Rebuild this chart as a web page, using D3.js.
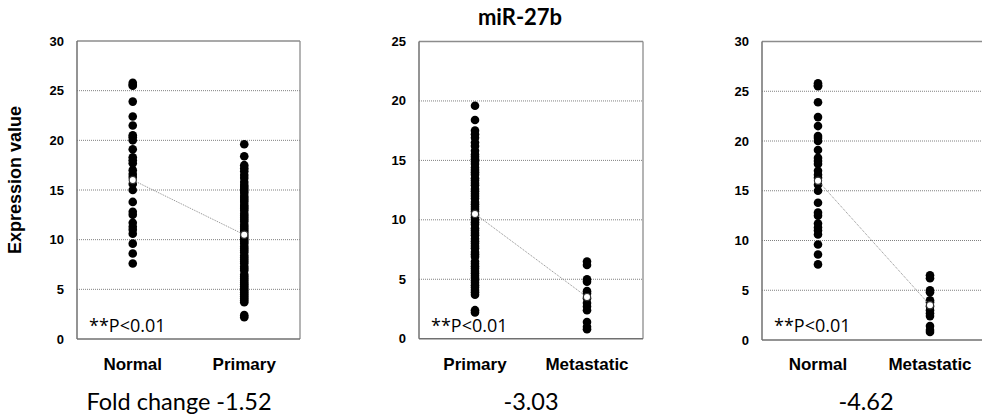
<!DOCTYPE html>
<html>
<head>
<meta charset="utf-8">
<script src="https://cdn.jsdelivr.net/npm/d3@7"></script>
<style>
  body { margin: 0; background: #fff; }
  svg { display: block; }
</style>
</head>
<body>
<svg width="982" height="419"></svg>
<script>
// values
var normalValues = [25.8, 25.6, 25.5, 23.9, 22.4, 21.5, 20.5, 20.3, 20.0, 19.1, 18.3, 18.0, 17.7, 17.0,
    16.6, 16.3, 15.6, 15.0, 13.8, 12.8, 12.5, 11.7, 11.3, 11.0, 10.6, 9.6, 8.6, 7.6];
var primaryValues = [19.6, 18.4, 17.5, 17.2, 16.9, 16.5, 16.2, 15.8, 15.5, 15.3, 15.1, 14.9, 14.7, 14.4,
    14.2, 14.0, 13.8, 13.5, 13.3, 13.1, 12.9, 12.6, 12.4, 12.2, 12.0, 11.8, 11.5, 11.3, 11.1, 10.9,
    10.7, 10.4, 10.2, 10.0, 9.8, 9.6, 9.3, 9.1, 8.9, 8.7, 8.4, 8.2, 8.0, 7.8, 7.6, 7.3, 7.1, 6.9,
    6.5, 6.3, 6.1, 5.9, 5.7, 5.5, 5.3, 5.1, 4.9, 4.7, 4.5, 4.3, 4.1, 3.9, 3.7, 2.4, 2.2];
var metastaticValues = [6.5, 6.2, 5.0, 4.8, 4.0, 3.8, 3.4, 3.0, 2.7, 2.4, 1.4, 1.0, 0.8];

var categoryNames = ["Normal", "Primary", "Metastatic"];
var meanValues = [16.0, 10.5, 3.5];

var panelPairs = [["Normal", "Primary"], ["Primary", "Metastatic"], ["Normal", "Metastatic"]];
var panelMax = [30, 25, 30];
var tickStep = 5;
var foldLabels = ["Fold change -1.52", "-3.03", "-4.62"];
var chartTitle = "miR-27b";
var yTitle = "Expression value";
var pLabel = "**P<0.01";

var valuesByName = {Normal: normalValues, Primary: primaryValues, Metastatic: metastaticValues};

var svg = d3.select("svg");

// panel boxes in pixels
var boxes = [
    {x0: 77, x1: 300, top: 41, bottom: 339, foldX: 179},
    {x0: 419, x1: 643, top: 41.5, bottom: 338.7, foldX: 531},
    {x0: 762, x1: 986, top: 41.5, bottom: 340, foldX: 866}
];

var draw_panel = function(i) {
    var b = boxes[i];
    var pair = panelPairs[i];
    var g = svg.append("g");

    var x = d3.scalePoint().domain(pair).range([b.x0, b.x1]).padding(0.5);
    var y = d3.scaleLinear().domain([0, panelMax[i]]).range([b.bottom, b.top]);
    var ticks = d3.range(0, panelMax[i] + tickStep, tickStep);

    // dotted grid
    g.selectAll("line.grid").data(ticks.filter(function(t) { return t > 0 && t < panelMax[i]; }))
        .enter().append("line")
        .attr("x1", b.x0).attr("x2", b.x1)
        .attr("y1", function(d) { return y(d); })
        .attr("y2", function(d) { return y(d); })
        .attr("stroke", "#808080")
        .attr("stroke-width", 1)
        .attr("stroke-dasharray", "1,1");

    // frame: top and right light, left and bottom axis
    g.append("line").attr("x1", b.x0).attr("x2", b.x1).attr("y1", y(panelMax[i])).attr("y2", y(panelMax[i]))
        .attr("stroke", "#8c8c8c").attr("stroke-width", 1.3);
    g.append("line").attr("x1", b.x1).attr("x2", b.x1).attr("y1", b.top).attr("y2", b.bottom)
        .attr("stroke", "#8c8c8c").attr("stroke-width", 1.3);
    g.append("line").attr("x1", b.x0).attr("x2", b.x0).attr("y1", b.top).attr("y2", b.bottom)
        .attr("stroke", "#707070").attr("stroke-width", 1.5);
    g.append("line").attr("x1", b.x0).attr("x2", b.x1).attr("y1", b.bottom).attr("y2", b.bottom)
        .attr("stroke", "#707070").attr("stroke-width", 1.5);

    // tick labels
    g.selectAll("text.tick").data(ticks).enter().append("text")
        .text(function(d) { return d; })
        .attr("x", b.x0 - 13)
        .attr("y", function(d) { return y(d) + 4.5; })
        .attr("style", "text-anchor: end; font-family: 'Liberation Sans', Arial, sans-serif; font-weight: bold; font-size: 13px;");

    // dots
    pair.forEach(function(name) {
        g.selectAll(null).data(valuesByName[name]).enter().append("circle")
            .attr("cx", x(name))
            .attr("cy", function(d) { return y(d); })
            .attr("r", 4.3)
            .attr("fill", "#000");
    });

    // mean line + markers
    var means = pair.map(function(name) { return [name, meanValues[categoryNames.indexOf(name)]]; });
    g.append("path")
        .attr("d", d3.line().x(function(d) { return x(d[0]); }).y(function(d) { return y(d[1]); })(means))
        .attr("fill", "none")
        .attr("stroke", "#8c8c8c")
        .attr("stroke-width", 1)
        .attr("stroke-dasharray", "1,1");
    g.selectAll("circle.mean").data(means).enter().append("circle")
        .attr("cx", function(d) { return x(d[0]); })
        .attr("cy", function(d) { return y(d[1]); })
        .attr("r", 3.6)
        .attr("fill", "#fff")
        .attr("stroke", "#333")
        .attr("stroke-width", 1.2);

    // category labels
    g.selectAll("text.cat").data(pair).enter().append("text")
        .text(function(d) { return d; })
        .attr("x", function(d) { return x(d); })
        .attr("y", 370)
        .attr("style", "text-anchor: middle; font-family: 'Liberation Sans', Arial, sans-serif; font-weight: bold; font-size: 17px;");

    g.append("text")
        .text(pLabel)
        .attr("x", b.x0 + 12)
        .attr("y", 332)
        .attr("style", "font-family: 'Open Sans', sans-serif; font-size: 18px;");

    g.append("text")
        .text(foldLabels[i])
        .attr("x", b.foldX)
        .attr("y", 410)
        .attr("style", "text-anchor: middle; font-family: Lato, sans-serif; font-size: 23.5px;");
};

for (var i = 0; i < 3; i++) {
    draw_panel(i);
}

svg.append("text")
    .text(chartTitle)
    .attr("x", 520)
    .attr("y", 25)
    .attr("style", "text-anchor: middle; font-family: Lato, sans-serif; font-weight: bold; font-size: 22px;");

svg.append("text")
    .text(yTitle)
    .attr("transform", "translate(21,180) rotate(-90)")
    .attr("style", "text-anchor: middle; font-family: 'Liberation Sans', Arial, sans-serif; font-weight: bold; font-size: 18px;");
</script>
</body>
</html>
